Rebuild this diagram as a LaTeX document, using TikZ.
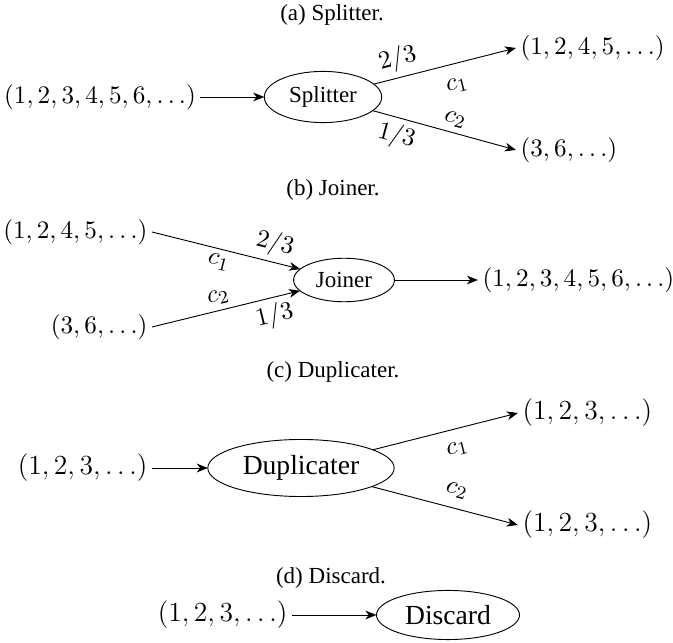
\documentclass[tikz,border=0pt]{standalone}
\usepackage[no-math]{fontspec}
\setmainfont{Liberation Serif}
\usepackage{tikz}
\usetikzlibrary{shapes.geometric,arrows.meta}
\tikzstyle{e}=[draw=black,arrows={-Stealth[length=4.8pt,width=3.8pt,inset=1.4pt]}]
\tikzstyle{n}=[inner sep=2pt,outer sep=0pt]
\tikzstyle{n oval}=[n,ellipse,draw,inner sep=3.33pt]
\tikzstyle{w}=[sloped,inner sep=1pt,font=\fontsize{11}{13}\selectfont]
\tikzstyle{seq}=[font=\fontsize{10.6}{13}\selectfont]
\tikzstyle{seq big}=[font=\fontsize{12.3}{15}\selectfont]
\tikzstyle{subcaption}=[n,inner sep=0pt]
\tikzstyle{big}=[font=\large]

\begin{document}
\begin{tikzpicture}[nodes=n,
                    x=0.4348pt,y=-0.4348pt]
    \useasboundingbox (0,0) rectangle (673,643);

    \begin{scope}[every edge/.style={e}]

    % (a) splitter
    \node[subcaption]           (cap_a) at  (332, 15)  {(a) Splitter.};
    \node[seq]                  (a_in) at   (100, 97)  {$(1,2,3,4,5,6,\dots)$};
    \node[n oval]               (split) at  (323, 97)  {Splitter};
    \node[seq,anchor=west]      (a_out1) at (516, 48)  {$(1,2,4,5,\dots)$};
    \node[seq,anchor=west]      (a_out2) at (516, 150) {$(3,6,\dots)$};

    \path
      (a_in)  edge (split)
      (split) edge node[w,above=1.5pt,pos=0.2] {$2/3$} node[w,below=5.5pt,pos=0.55] {$c_1$} (a_out1.west)
      (split) edge node[w,above=1.5pt,pos=0.55] {$c_2$} node[w,below=1.5pt,pos=0.2] {$1/3$} (a_out2.west);

    % (b) joiner
    \node[subcaption]           (cap_b) at  (333, 190) {(b) Joiner.};
    \node[seq,anchor=east]      (b_in1) at  (152, 232) {$(1,2,4,5,\dots)$};
    \node[seq,anchor=east]      (b_in2) at  (152, 327) {$(3,6,\dots)$};
    \node[n oval]               (join) at   (344, 280) {Joiner};
    \node[seq,anchor=west]      (b_out) at  (478, 280) {$(1,2,3,4,5,6,\dots)$};

    \path
      (b_in1.east) edge node[w,above=1.5pt,pos=0.8] {$2/3$} node[w,below=1.5pt,pos=0.47] {$c_1$} (join)
      (b_in2.east) edge node[w,above=1.5pt,pos=0.47] {$c_2$} node[w,below=1.5pt,pos=0.8] {$1/3$} (join)
      (join)       edge (b_out);

    % (c) duplicater
    \node[subcaption]           (cap_c) at  (333, 372) {(c) Duplicater.};
    \node[seq big,anchor=east]  (c_in) at   (152, 468) {$(1,2,3,\dots)$};
    \node[big,n oval]           (dup) at    (301, 468) {Duplicater};
    \node[seq big,anchor=west]  (c_out1) at (518, 413) {$(1,2,3,\dots)$};
    \node[seq big,anchor=west]  (c_out2) at (518, 525) {$(1,2,3,\dots)$};

    \path
      (c_in) edge (dup)
      (dup)  edge node[big,w,below=4.5pt,pos=0.55] {$c_1$} (c_out1.west)
      (dup)  edge node[big,w,above=3.5pt,pos=0.55] {$c_2$} (c_out2.west);

    % (d) discard
    \node[subcaption]           (cap_d) at  (331, 578) {(d) Discard.};
    \node[seq big,anchor=east]  (d_in) at   (292, 615) {$(1,2,3,\dots)$};
    \node[big,n oval]           (disc) at   (448, 615) {Discard};

    \path (d_in) edge (disc);

    \end{scope}

\end{tikzpicture}
\end{document}
